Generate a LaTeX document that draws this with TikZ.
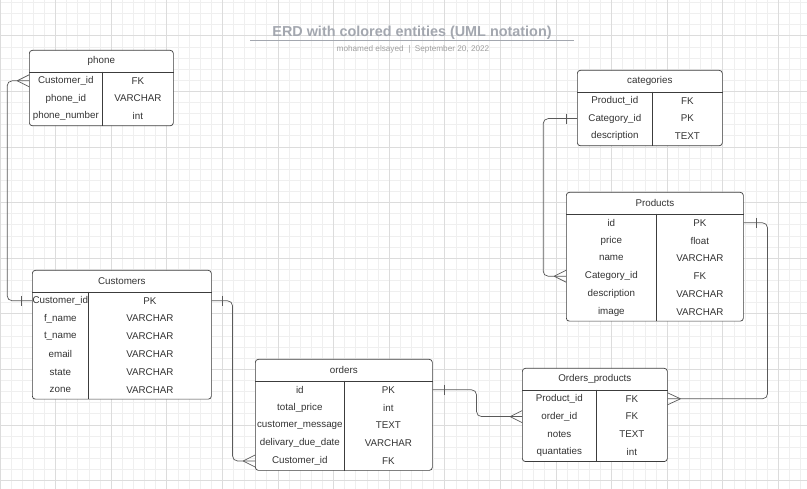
\documentclass[tikz,border=0pt]{standalone}
\usepackage{fontspec}
\setmainfont{Liberation Sans}
\usetikzlibrary{calc}

\definecolor{erdline}{HTML}{5A5A5A}
\definecolor{erdframe}{HTML}{3C3C3C}
\definecolor{erdtext}{HTML}{333333}
\definecolor{titlegray}{HTML}{A3A7AF}
\definecolor{subgray}{HTML}{A0A0A0}
\definecolor{gridminor}{HTML}{EFEFEF}
\definecolor{gridmajor}{HTML}{DCDCDC}

\begin{document}
\begin{tikzpicture}[x=1pt, y=-1pt, font=\fontsize{9.8}{11}\selectfont, text=erdtext,
  entity/.style={draw=erdframe, fill=white, rounded corners=3pt, line width=0.7pt,
                 anchor=north west, inner sep=0pt},
  head/.style={anchor=north, inner sep=0pt, minimum height=22},
  cellk/.style={anchor=west, inner sep=0pt, minimum height=17.8},
  cellv/.style={anchor=east, inner sep=0pt, minimum height=17.8},
  rule/.style={draw=erdframe, line width=0.6pt},
  rel/.style={draw=erdline, line width=0.7pt, rounded corners=5pt},
  foot/.style={draw=erdline, line width=0.7pt},
  minor/.style={draw=gridminor, line width=0.8pt},
  major/.style={draw=gridmajor, line width=0.8pt}]
\useasboundingbox (0,0) rectangle (807,489);
\fill[white] (0,0) rectangle (807,489);
% background grid
\foreach \i in {0,...,72} \draw[minor] (\i*11.12,0) -- (\i*11.12,489);
\foreach \j in {0,...,43} \draw[minor] (0,2.44+\j*11.12) -- (807,2.44+\j*11.12);
\foreach \i in {0,...,14} \draw[major] (\i*55.6,0) -- (\i*55.6,489);
\foreach \j in {0,...,8} \draw[major] (0,35.8+\j*55.6) -- (807,35.8+\j*55.6);
% title
\node[font=\bfseries\fontsize{14.4}{16}\selectfont, text=titlegray] (title) at (412,32.5) {ERD with colored entities (UML notation)};
\draw[draw=titlegray, line width=1.2pt] (250,40.5) -- (574,40.5);
\node[font=\fontsize{8.2}{9}\selectfont, text=subgray] (sub) at (413,49.5) {mohamed elsayed \ | \ September 20, 2022};
% phone
\node[entity, minimum width=144, minimum height=75.4] (phone) at (29,50) {};
\node[head, minimum width=144] (phone-h) at (phone.north) {phone};
\foreach \k/\v [count=\r] in {Customer\_id/FK, phone\_id/VARCHAR, phone\_number/int} {
  \node[cellk, minimum width=73] (phone-k\r) at ($(phone-h.south west)+(0,\r*17.8-9.4)$) {\k};
  \node[cellv, minimum width=71] (phone-v\r) at ($(phone-h.south east)+(0,\r*17.8-9.4)$) {\v};
}
\draw[rule] (phone-h.south west) -- (phone-h.south east) (phone-k1.north east) -- (phone.south -| phone-k1.east);
% categories
\node[entity, minimum width=145, minimum height=75.4] (cat) at (577,70) {};
\node[head, minimum width=145] (cat-h) at (cat.north) {categories};
\foreach \k/\v [count=\r] in {Product\_id/FK, Category\_id/PK, description/TEXT} {
  \node[cellk, minimum width=75] (cat-k\r) at ($(cat-h.south west)+(0,\r*17.8-9.4)$) {\k};
  \node[cellv, minimum width=70] (cat-v\r) at ($(cat-h.south east)+(0,\r*17.8-9.4)$) {\v};
}
\draw[rule] (cat-h.south west) -- (cat-h.south east) (cat-k1.north east) -- (cat.south -| cat-k1.east);
% Products
\node[entity, minimum width=177, minimum height=128.8] (prod) at (566,192) {};
\node[head, minimum width=177] (prod-h) at (prod.north) {Products};
\foreach \k/\v [count=\r] in {id/PK, price/float, name/VARCHAR, Category\_id/FK, description/VARCHAR, image/VARCHAR} {
  \node[cellk, minimum width=90] (prod-k\r) at ($(prod-h.south west)+(0,\r*17.8-9.4)$) {\k};
  \node[cellv, minimum width=87] (prod-v\r) at ($(prod-h.south east)+(0,\r*17.8-9.4)$) {\v};
}
\draw[rule] (prod-h.south west) -- (prod-h.south east) (prod-k1.north east) -- (prod.south -| prod-k1.east);
% Customers
\node[entity, minimum width=179, minimum height=128.8] (cust) at (32,270) {};
\node[head, minimum width=179] (cust-h) at (cust.north) {Customers};
\foreach \k/\v [count=\r] in {Customer\_id/PK, f\_name/VARCHAR, t\_name/VARCHAR, email/VARCHAR, state/VARCHAR, zone/VARCHAR} {
  \node[cellk, minimum width=56] (cust-k\r) at ($(cust-h.south west)+(0,\r*17.8-9.4)$) {\k};
  \node[cellv, minimum width=123] (cust-v\r) at ($(cust-h.south east)+(0,\r*17.8-9.4)$) {\v};
}
\draw[rule] (cust-h.south west) -- (cust-h.south east) (cust-k1.north east) -- (cust.south -| cust-k1.east);
% orders
\node[entity, minimum width=177, minimum height=111] (ord) at (255,359) {};
\node[head, minimum width=177] (ord-h) at (ord.north) {orders};
\foreach \k/\v [count=\r] in {id/PK, total\_price/int, customer\_message/TEXT, delivary\_due\_date/VARCHAR, Customer\_id/FK} {
  \node[cellk, minimum width=89] (ord-k\r) at ($(ord-h.south west)+(0,\r*17.8-9.4)$) {\k};
  \node[cellv, minimum width=88] (ord-v\r) at ($(ord-h.south east)+(0,\r*17.8-9.4)$) {\v};
}
\draw[rule] (ord-h.south west) -- (ord-h.south east) (ord-k1.north east) -- (ord.south -| ord-k1.east);
% Orders_products
\node[entity, minimum width=145, minimum height=93.2] (op) at (522,368) {};
\node[head, minimum width=145] (op-h) at (op.north) {Orders\_products};
\foreach \k/\v [count=\r] in {Product\_id/FK, order\_id/FK, notes/TEXT, quantaties/int} {
  \node[cellk, minimum width=74] (op-k\r) at ($(op-h.south west)+(0,\r*17.8-9.4)$) {\k};
  \node[cellv, minimum width=71] (op-v\r) at ($(op-h.south east)+(0,\r*17.8-9.4)$) {\v};
}
\draw[rule] (op-h.south west) -- (op-h.south east) (op-k1.north east) -- (op.south -| op-k1.east);
% relationships
\draw[rel] (phone-k1.west) -- ++(-22,0) |- (cust-k1.west);
\draw[rel] (cust-v1.east) -- ++(21,0) |- (ord-k5.west);
\draw[rel] (ord-v1.east) -- ++(44,0) |- (op-k2.west);
\draw[rel] (prod-v1.east) -- ++(24,0) |- (op-v1.east);
\draw[rel] (cat-k2.west) -- ++(-34,0) |- (prod-k4.west);
% many ends (crow's feet)
\draw[foot] (phone-k1.west) ++(-12,0) -- ++(12,-6) ++(-12,6) -- ++(12,6);
\draw[foot] (ord-k5.west) ++(-12,0) -- ++(12,-6) ++(-12,6) -- ++(12,6);
\draw[foot] (op-k2.west) ++(-12,0) -- ++(12,-6) ++(-12,6) -- ++(12,6);
\draw[foot] (prod-k4.west) ++(-12,0) -- ++(12,-6) ++(-12,6) -- ++(12,6);
\draw[foot] (op-v1.east) ++(13,0) -- ++(-13,-6) ++(13,6) -- ++(-13,6);
% one ends (bars)
\draw[foot] ($(cust-k1.west)+(-11,-5)$) -- ++(0,10);
\draw[foot] ($(cust-v1.east)+(11,-5)$) -- ++(0,10);
\draw[foot] ($(ord-v1.east)+(12,-5)$) -- ++(0,10);
\draw[foot] ($(prod-v1.east)+(13,-5)$) -- ++(0,10);
\draw[foot] ($(cat-k2.west)+(-11,-5)$) -- ++(0,10);
\end{tikzpicture}
\end{document}
